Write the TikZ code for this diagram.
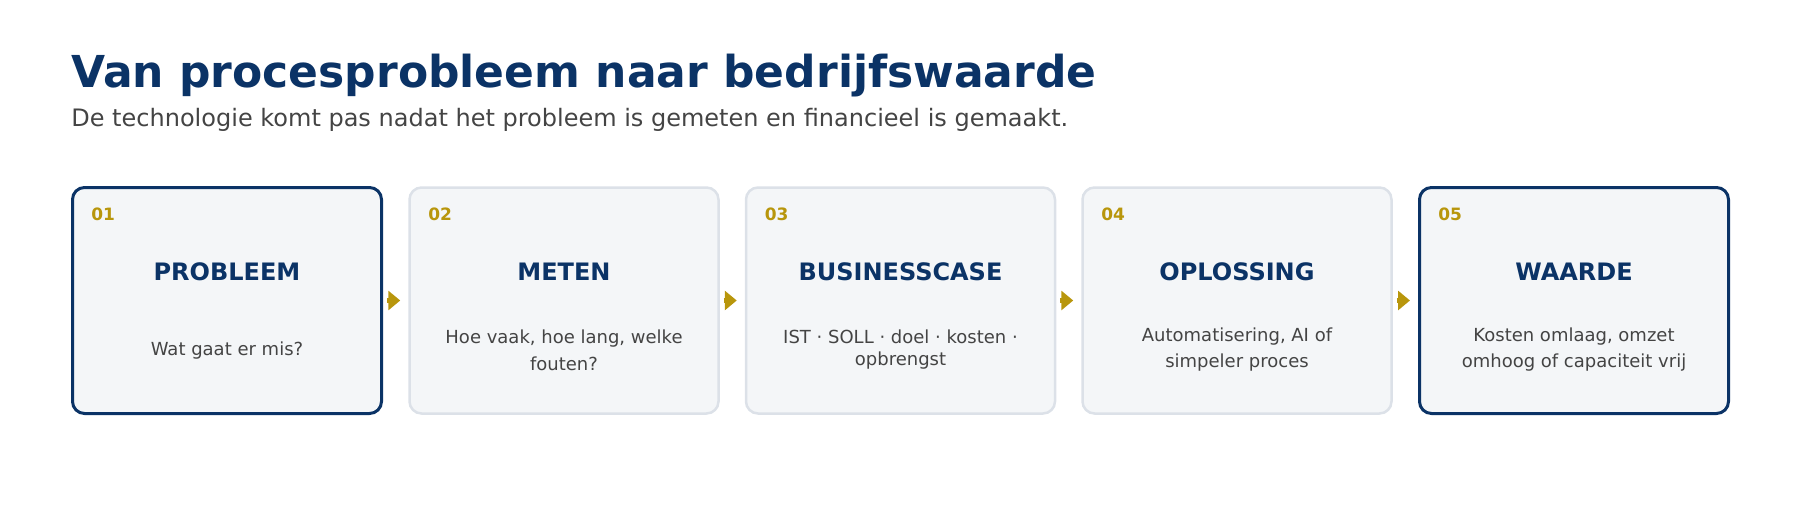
\documentclass[tikz,border=0pt]{standalone}
\usepackage{fontspec}
\setmainfont{DejaVu Sans}
\usetikzlibrary{arrows.meta,positioning}
\definecolor{navy}{HTML}{0B3366}
\definecolor{gold}{HTML}{B8960C}
\definecolor{boxfill}{HTML}{F4F6F8}
\definecolor{boxline}{HTML}{DCE1E8}
\definecolor{bodytext}{HTML}{444444}
\begin{document}
\begin{tikzpicture}[x=0.5pt, y=-0.5pt,
   stepnum/.style={anchor=base west, inner sep=0, text=gold, font=\fontsize{8.5}{10}\selectfont\bfseries},
   stephead/.style={anchor=base, inner sep=0, text=navy, font=\fontsize{12}{14}\selectfont\bfseries},
   stepdesc/.style={anchor=base, inner sep=0, align=center, text=bodytext, font=\fontsize{9}{13.5}\selectfont},
   flow/.style={-{Triangle[length=6pt,width=9.5pt]}, draw=gold, line width=2.5pt, shorten <=2pt, shorten >=4pt}]
   \useasboundingbox (0,0) rectangle (1800,520);
   \node (title) at (71,87) [anchor=base west, inner sep=0, text=navy, font=\fontsize{22}{26}\selectfont\bfseries] {Van procesprobleem naar bedrijfswaarde};
   \node (sub) at (71,126) [anchor=base west, inner sep=0, text=bodytext, font=\fontsize{12}{14}\selectfont] {De technologie komt pas nadat het probleem is gemeten en financieel is gemaakt.};
   \begin{scope}[every node/.style={rounded corners=6pt, fill=boxfill, draw=boxline, line width=1.25pt, minimum width=154.5pt, minimum height=113pt, inner sep=0}]
    \node (s1) at (227,300.5) [draw=navy, line width=1.5pt] {};
    \node (s2) at (564,300.5) {};
    \node (s3) at (900.5,300.5) {};
    \node (s4) at (1237,300.5) {};
    \node (s5) at (1574,300.5) [draw=navy, line width=1.5pt] {};
   \end{scope}
   \node (n1) at (91,220) [stepnum] {01};
   \node (n2) at (428,220) [stepnum] {02};
   \node (n3) at (764.5,220) [stepnum] {03};
   \node (n4) at (1101,220) [stepnum] {04};
   \node (n5) at (1438,220) [stepnum] {05};
   \node (h1) at (227,280) [stephead] {PROBLEEM};
   \node (h2) at (564,280) [stephead] {METEN};
   \node (h3) at (900.5,280) [stephead] {BUSINESSCASE};
   \node (h4) at (1237,280) [stephead] {OPLOSSING};
   \node (h5) at (1574,280) [stephead] {WAARDE};
   \node (d1) at (227,355) [stepdesc] {Wat gaat er mis?};
   \node (d2) at (564,370) [stepdesc] {Hoe vaak, hoe lang, welke\\fouten?};
   \node (d3) at (900.5,365) [stepdesc, font=\fontsize{9}{11}\selectfont] {IST · SOLL · doel · kosten ·\\opbrengst};
   \node (d4) at (1237,367) [stepdesc, font=\fontsize{9}{13}\selectfont] {Automatisering, AI of\\simpeler proces};
   \node (d5) at (1574,367) [stepdesc, font=\fontsize{9}{13}\selectfont] {Kosten omlaag, omzet\\omhoog of capaciteit vrij};
   \draw[flow] (s1) -- (s2);
   \draw[flow] (s2) -- (s3);
   \draw[flow] (s3) -- (s4);
   \draw[flow] (s4) -- (s5);
\end{tikzpicture}
\end{document}
